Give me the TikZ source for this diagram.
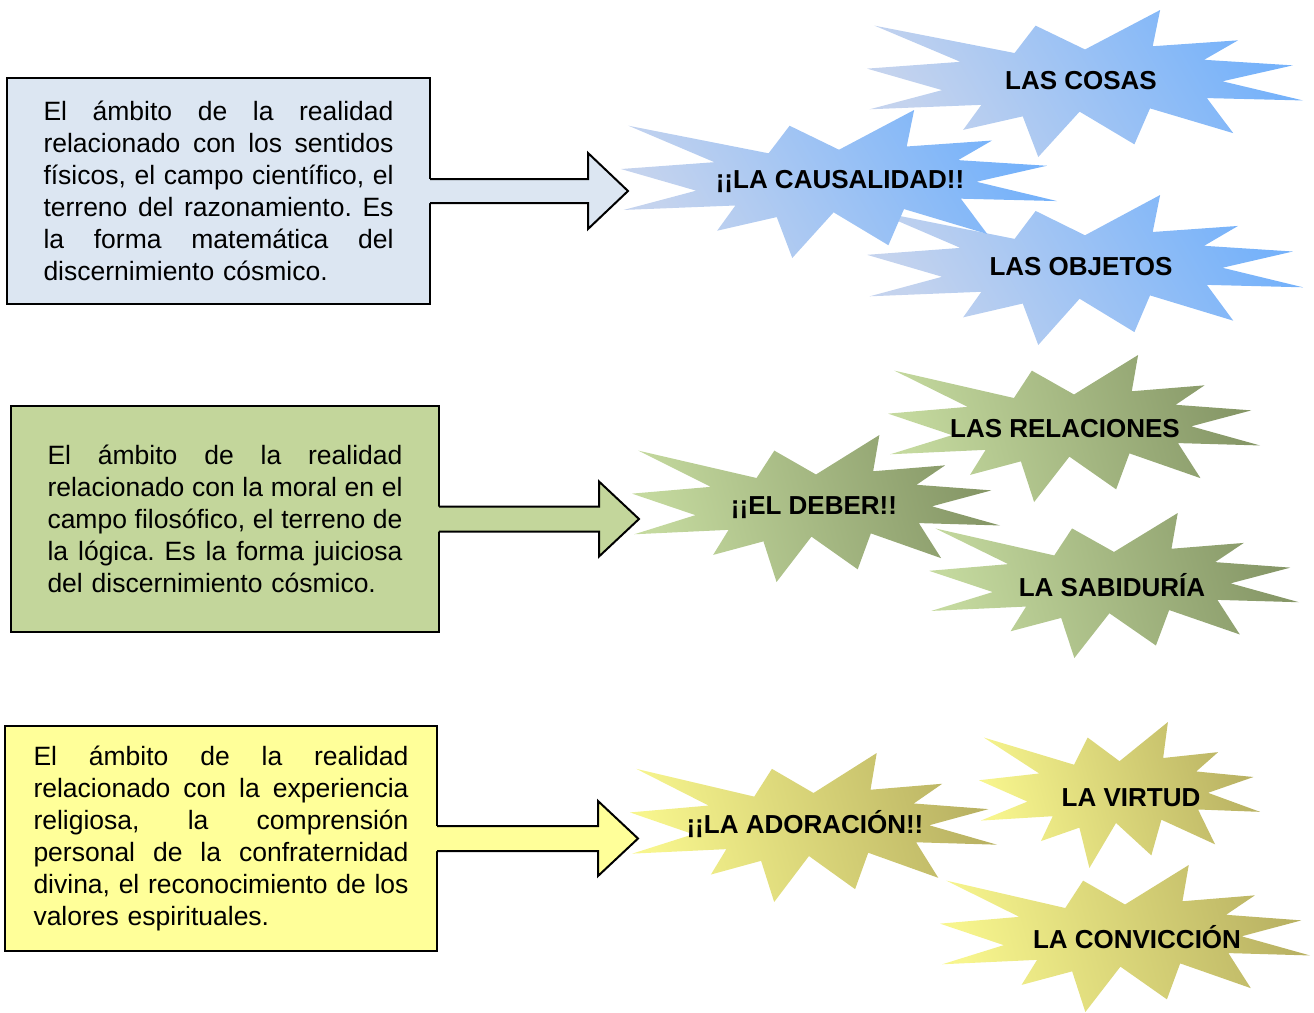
\documentclass[tikz,border=0pt]{standalone}
\usepackage{fontspec}
\setmainfont{Liberation Sans}
\usetikzlibrary{calc}
\frenchspacing
\definecolor{boxblue}{HTML}{DCE6F2}
\definecolor{boxgreen}{HTML}{C3D69B}
\definecolor{boxyellow}{HTML}{FFFF99}
\definecolor{blA}{HTML}{C4D3EE}
\definecolor{blB}{HTML}{90C4FC}
\definecolor{blC}{HTML}{76B2FA}
\definecolor{grA}{HTML}{C4D99E}
\definecolor{grB}{HTML}{AABE85}
\definecolor{grC}{HTML}{869767}
\definecolor{yeA}{HTML}{F7F58D}
\definecolor{yeB}{HTML}{E6E27E}
\definecolor{yeC}{HTML}{B9B263}
\newcommand\seal[5]{\shade[#5,shift={(#1,#2)},xscale=#3,yscale=#4]
 (0.5,0.2685) -- (0.6723,0) -- (0.6553,0.2465) -- (0.8509,0.2063) -- (0.7732,0.3387)
 -- (0.9767,0.3767) -- (0.8151,0.4850) -- (1.0,0.6153) -- (0.7795,0.5992) -- (0.8400,0.8377)
 -- (0.6491,0.6693) -- (0.6133,0.9138) -- (0.4876,0.6914) -- (0.3928,1.0) -- (0.3572,0.7235)
 -- (0.2205,0.8156) -- (0.2624,0.6452) -- (0.00625,0.6753) -- (0.1723,0.5451) -- (0,0.3988)
 -- (0.2142,0.3526) -- (0.0171,0.1063) -- (0.3385,0.2926) -- (0.3867,0.1063) -- cycle;}
\newcommand\jl[2]{\leavevmode\hbox to #1{\spaceskip=0.278em plus 1fil\relax #2}\\}
\tikzset{
  box/.style={draw=black, line width=2pt, inner sep=0pt, outer sep=0pt, align=left,
    font=\fontsize{26.5}{32}\selectfont, minimum height=226pt},
  startext/.style={font=\bfseries\fontsize{26}{30}\selectfont, inner sep=0pt},
  arrowline/.style={draw=black, line width=2pt, line join=miter},
  blueshade/.style={left color=blA, middle color=blB, right color=blC, shading angle=120},
  greenshade/.style={left color=grA, middle color=grB, right color=grC, shading angle=105},
  yellowshade/.style={left color=yeA, middle color=yeB, right color=yeC, shading angle=105},
}
\begin{document}
\begin{tikzpicture}[x=1pt,y=-1pt]
\useasboundingbox (0,0) rectangle (1314,1012);
% ---------- stars ----------
\seal{867}{10}{436}{147}{blueshade}
\seal{867}{195}{436}{150}{blueshade}
\seal{621}{110}{436}{148}{blueshade}
\seal{888}{355}{372}{147}{greenshade}
\seal{929}{513}{370}{145}{greenshade}
\seal{632}{435}{368}{147}{greenshade}
\seal{979}{722}{281}{146}{yellowshade}
\seal{940}{865}{370}{147}{yellowshade}
\seal{630}{753}{367}{149}{yellowshade}
\node[startext] (cosas) at (1081,81) {LAS COSAS};
\node[startext] (causa) at (840,181) {¡¡LA CAUSALIDAD!!};
\node[startext] (objetos) at (1081,267) {LAS OBJETOS};
\node[startext] (relac) at (1065,429) {LAS RELACIONES};
\node[startext] (deber) at (814,508) {¡¡EL DEBER!!};
\node[startext] (sabid) at (1112,585) {LA SABIDURÍA};
\node[startext] (ador) at (805,824) {¡¡LA ADORACIÓN!!};
\node[startext] (virtud) at (1131,798) {LA VIRTUD};
\node[startext] (conv) at (1137,937) {LA CONVICCIÓN};
% ---------- boxes ----------
\node[box, fill=boxblue, minimum width=423pt, text width=350pt] (b1) at (218.5,191) {%
\jl{350pt}{El ámbito de la realidad}%
\jl{350pt}{relacionado con los sentidos}%
\jl{350pt}{físicos, el campo científico, el}%
\jl{350pt}{terreno del razonamiento. Es}%
\jl{350pt}{la forma matemática del}%
discernimiento cósmico.};
\node[box, fill=boxgreen, minimum width=428pt, text width=355pt] (b2) at (225,519) {%
\jl{355pt}{El ámbito de la realidad}%
\jl{355pt}{relacionado con la moral en el}%
\jl{355pt}{campo filosófico, el terreno de}%
\jl{355pt}{la lógica. Es la forma juiciosa}%
del discernimiento cósmico.};
\node[box, fill=boxyellow, minimum width=432pt, minimum height=225pt, text width=375pt] (b3) at (221,838.5) {%
\jl{375pt}{El ámbito de la realidad}%
\jl{375pt}{relacionado con la experiencia}%
\jl{375pt}{religiosa, la comprensión}%
\jl{375pt}{personal de la confraternidad}%
\jl{375pt}{divina, el reconocimiento de los}%
valores espirituales.};
% ---------- block arrows ----------
\fill[boxblue] ($(b1.east)+(-1.2,-12)$) -- ++(159.2,0) -- ++(0,-26) -- ++(40,38) -- ++(-40,38) -- ++(0,-26) -- ++(-159.2,0) -- cycle;
\draw[arrowline] (b1.east) ++(0,-12) -- ++(158,0) -- ++(0,-26) -- ++(40,38) -- ++(-40,38) -- ++(0,-26) -- ++(-158,0);
\fill[boxgreen] ($(b2.east)+(-1.2,-12.5)$) -- ++(161.2,0) -- ++(0,-25) -- ++(40,37.5) -- ++(-40,37.5) -- ++(0,-25) -- ++(-161.2,0) -- cycle;
\draw[arrowline] (b2.east) ++(0,-12.5) -- ++(160,0) -- ++(0,-25) -- ++(40,37.5) -- ++(-40,37.5) -- ++(0,-25) -- ++(-160,0);
\fill[boxyellow] ($(b3.east)+(-1.2,-12.5)$) -- ++(162.2,0) -- ++(0,-25) -- ++(40,37.5) -- ++(-40,37.5) -- ++(0,-25) -- ++(-162.2,0) -- cycle;
\draw[arrowline] (b3.east) ++(0,-12.5) -- ++(161,0) -- ++(0,-25) -- ++(40,37.5) -- ++(-40,37.5) -- ++(0,-25) -- ++(-161,0);
\end{tikzpicture}
\end{document}
